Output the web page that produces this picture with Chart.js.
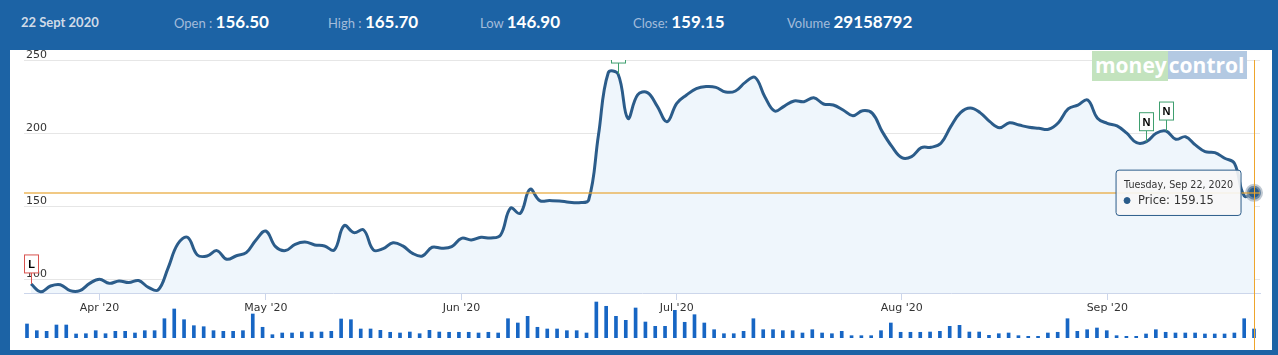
<!DOCTYPE html>
<html>
<head>
<meta charset="utf-8">
<script src="https://cdn.jsdelivr.net/npm/chart.js@4.4.1/dist/chart.umd.min.js"></script>
<style>
  html, body { margin: 0; padding: 0; }
  body { width: 1278px; height: 355px; background: #1c63a5; position: relative; overflow: hidden; font-family: Lato, sans-serif; }
  .panel { position: absolute; left: 10px; top: 50px; width: 1262px; height: 300px; background: #fff; }
  .hd { position: absolute; top: 12px; line-height: 20px; white-space: nowrap; }
  .hd .k { font-size: 13px; color: #a3bcdb; }
  .hd .v { font-size: 17px; font-weight: bold; color: #fff; }
  .hd.date { font-size: 13px; font-weight: bold; color: #d0dbe8; }
  canvas { position: absolute; left: 0; }
  #price { top: 50px; }
  #volume { top: 300px; }
  .logo { position: absolute; left: 1092px; top: 53px; font: bold 21px "Open Sans", sans-serif; color: #fff; line-height: 24px; white-space: nowrap; }
  .logo .m { background: #c3e3be; padding: 0 1px 2px 3px; }
  .logo .c { background: #b3c9e2; padding: 0 3px 0 1px; }
</style>
</head>
<body>
<div class="panel"></div>
<div class="hd date" style="left:21px">22 Sept 2020</div>
<div class="hd" style="left:174px"><span class="k">Open : </span><span class="v">156.50</span></div>
<div class="hd" style="left:328px"><span class="k">High : </span><span class="v">165.70</span></div>
<div class="hd" style="left:480px"><span class="k">Low </span><span class="v">146.90</span></div>
<div class="hd" style="left:633px"><span class="k">Close: </span><span class="v">159.15</span></div>
<div class="hd" style="left:787px"><span class="k">Volume </span><span class="v">29158792</span></div>
<canvas id="price" width="1278" height="270"></canvas>
<canvas id="volume" width="1278" height="50"></canvas>
<div class="logo"><span class="m">money</span><span class="c">control</span></div>
<script>
// trading days per month
const monthDays = [
  ['2020-03', [23, 24, 25, 26, 27, 30, 31]],
  ['2020-04', [3, 7, 8, 9, 13, 15, 16, 17, 20, 21, 22, 23, 24, 27, 28, 29, 30]],
  ['2020-05', [4, 5, 6, 7, 8, 11, 12, 13, 14, 15, 18, 19, 20, 21, 22, 25, 26, 27, 28, 29]],
  ['2020-06', [1, 2, 3, 4, 5, 8, 9, 10, 11, 12, 15, 16, 17, 18, 19, 22, 23, 24, 25, 26, 29, 30]],
  ['2020-07', [1, 2, 3, 6, 7, 8, 9, 10, 13, 14, 15, 16, 17, 20, 21, 22, 23, 24, 27, 28, 29, 30, 31]],
  ['2020-08', [3, 4, 5, 6, 7, 10, 11, 12, 13, 14, 17, 18, 19, 20, 21, 24, 25, 26, 27, 28, 31]],
  ['2020-09', [1, 2, 3, 4, 7, 8, 9, 10, 11, 14, 15, 16, 17, 18, 21, 22]]
];

const prices = [
  96.8, 91.5, 95.4, 96.3, 92.2, 92.2, 97.2, 100.0, 97.2, 98.8, 97.7, 99.1, 94.5, 92.7, 107.5,
  124.1, 128.7, 116.6, 115.9, 119.6, 113.7, 116.1, 118.2, 126.9, 133.0, 122.3, 119.6, 123.9, 125.5, 123.5,
  122.8, 120.0, 136.7, 131.9, 133.7, 120.0, 120.9, 125.0, 122.8, 117.7, 115.9, 121.9, 121.2, 122.3, 128.0,
  126.9, 128.7, 128.2, 130.3, 148.6, 145.1, 161.5, 153.8, 153.8, 153.6, 152.7, 152.4, 154.2, 198.7, 241.3,
  240.4, 210.1, 226.1,
  227.7, 218.5, 207.8, 220.4, 226.1, 230.4, 231.8, 231.3, 228.1, 228.8, 234.7, 238.1, 224.9, 215.1, 218.5,
  222.0, 221.5, 224.2, 219.9, 219.2, 215.8, 211.9, 215.3, 213.5, 201.0, 190.7, 183.2, 183.9, 190.0, 190.3,
  193.0, 204.4, 214.0,
  217.2, 214.0, 207.8, 203.7, 207.1, 205.5, 204.0, 203.3, 202.6, 207.1, 216.5, 219.2, 222.6, 210.1, 206.7,
  204.9, 199.9, 193.4, 194.1, 199.9, 201.4, 195.8, 197.5, 191.9, 187.3, 186.6, 182.8, 179.3, 157.0, 159.15
];

// volume in millions of shares
const volumes = [
  45.4, 23.7, 21.7, 42.1, 42.1, 13.0, 13.9, 23.7, 13.9, 21.7, 21.7, 16.2, 23.7, 23.7, 62.5,
  94.0, 59.3, 39.9, 36.6, 23.7, 21.7, 21.7, 23.7, 77.8, 34.7, 10.7, 16.2, 16.2,
  19.4, 19.4, 19.4, 21.7, 61.6, 59.3, 29.2, 29.2, 24.9, 18.5, 16.2, 19.4, 13.9, 24.9, 19.4, 18.5, 18.5,
  18.5, 16.2, 18.5, 16.2, 62.5, 48.6, 70.3, 34.7, 29.2, 29.2, 23.7, 23.7, 16.2, 116.6, 102.7, 70.3, 57.3, 97.2,
  51.8, 37.9, 37.9, 89.7, 50.9, 75.5, 48.6, 26.9, 13.9, 13.9, 21.7, 62.5, 26.9, 26.9, 23.7,
  23.7, 16.2, 26.9, 16.2, 13.9, 21.7, 7.5, 7.5, 7.5, 23.7, 48.6, 18.5, 18.5, 18.5, 19.4,
  21.7, 37.9, 41.1, 19.4, 19.4, 8.7, 13.9, 16.2, 7.5, 5.5, 5.5, 16.2, 18.5, 62.5, 21.7,
  26.9, 32.4, 23.7, 7.5, 5.5, 5.5, 13.0, 26.9, 18.5, 16.2, 16.2, 16.2, 13.0, 13.0, 13.0,
  16.2, 62.5, 29.16
];

const yTicks = [100, 150, 200, 250];

// flags on the price line: point index, letter, colour
const flagIndex = [0, 60, 114, 116];
const flagText = ['L', 'H', 'N', 'N'];
const flagColor = ['#d9534f', '#3f9f6f', '#3f9f6f', '#3f9f6f'];

const weekDays = ['Sunday', 'Monday', 'Tuesday', 'Wednesday', 'Thursday', 'Friday', 'Saturday'];
const monNames = ['Jan', 'Feb', 'Mar', 'Apr', 'May', 'Jun', 'Jul', 'Aug', 'Sep', 'Oct', 'Nov', 'Dec'];

const dates = monthDays.flatMap(([m, ds]) => ds.map(d => new Date(+m.slice(0, 4), +m.slice(5) - 1, d)));
const monthStarts = dates.map((d, i) => i).filter(i => i > 0 && dates[i].getMonth() !== dates[i - 1].getMonth());
const fmtDate = d => `${weekDays[d.getDay()]}, ${monNames[d.getMonth()]} ${d.getDate()}, ${d.getFullYear()}`;
const monthLabel = i => `${monNames[dates[i].getMonth()]} '${String(dates[i].getFullYear()).slice(2)}`;

const lineColor = '#2b5c8a';
const crossColor = '#eea52c';
const axisFont = { family: 'DejaVu Sans', size: 11 };
const lastIdx = prices.length - 1;
const xMin = -0.713, xMax = 125.61;

const flagPlugin = {
  id: 'flags',
  afterDatasetsDraw(chart) {
    const { ctx, chartArea: a, scales } = chart;
    ctx.save();
    ctx.beginPath();
    ctx.rect(a.left, a.top, a.right - a.left, a.bottom - a.top);
    ctx.clip();
    flagIndex.forEach((idx, k) => {
      const x = Math.round(scales.x.getPixelForValue(idx)) + 0.5;
      const y = scales.y.getPixelForValue(prices[idx]);
      const w = 14, h = 18, stem = 11;
      ctx.strokeStyle = flagColor[k];
      ctx.lineWidth = 1;
      ctx.beginPath();
      ctx.moveTo(x, y);
      ctx.lineTo(x, y - stem);
      ctx.stroke();
      ctx.fillStyle = '#fff';
      ctx.fillRect(x - w / 2, y - stem - h, w, h);
      ctx.strokeRect(x - w / 2, y - stem - h, w, h);
      ctx.fillStyle = '#000';
      ctx.font = 'bold 11px "Liberation Sans"';
      ctx.textAlign = 'center';
      ctx.textBaseline = 'middle';
      ctx.fillText(flagText[k], x, y - stem - h / 2 + 1);
    });
    ctx.restore();
  }
};

// crosshair through the last point; the tooltip is drawn over it
const crosshair = {
  id: 'crosshair',
  afterDatasetsDraw(chart) {
    const { ctx, chartArea: a, scales } = chart;
    const x = Math.round(scales.x.getPixelForValue(lastIdx)) + 0.5;
    const y = Math.round(scales.y.getPixelForValue(prices[lastIdx]));
    ctx.save();
    ctx.fillStyle = 'rgba(232,165,50,0.6)';
    ctx.fillRect(a.left, y - 1, a.right - a.left, 2);
    ctx.strokeStyle = crossColor;
    ctx.lineWidth = 1;
    ctx.beginPath();
    ctx.moveTo(x, a.top);
    ctx.lineTo(x, chart.height);
    ctx.stroke();
    ctx.restore();
  }
};

const priceChart = new Chart(document.getElementById('price'), {
  type: 'line',
  data: {
    datasets: [{
      label: 'Price',
      data: prices.map((p, i) => ({ x: i, y: p })),
      borderColor: lineColor,
      borderWidth: 3,
      tension: 0.4,
      fill: 'start',
      backgroundColor: '#eff6fc',
      pointRadius: 0,
      pointHoverRadius: 7,
      pointHoverBorderWidth: 4,
      pointHoverBackgroundColor: lineColor,
      pointHoverBorderColor: 'rgba(150,165,180,0.6)',
      clip: 10
    }]
  },
  options: {
    responsive: false,
    animation: false,
    events: [],
    layout: { padding: { left: 20, right: 18, top: 10, bottom: 0 } },
    plugins: {
      legend: { display: false },
      tooltip: {
        xAlign: 'right',
        yAlign: 'center',
        caretSize: 0,
        caretPadding: 13,
        backgroundColor: 'rgba(247,247,247,0.9)',
        borderColor: lineColor,
        borderWidth: 1,
        cornerRadius: 3,
        padding: { top: 10, bottom: 8, left: 8, right: 8 },
        titleColor: '#333',
        titleFont: { family: 'DejaVu Sans', size: 9.6, weight: 'normal' },
        titleMarginBottom: 2,
        bodyColor: '#333',
        bodyFont: { family: 'DejaVu Sans', size: 11.5 },
        displayColors: true,
        usePointStyle: true,
        boxWidth: 6,
        boxHeight: 6,
        boxPadding: 6,
        callbacks: {
          title: items => fmtDate(dates[items[0].parsed.x]),
          label: c => `${c.dataset.label}: ${c.parsed.y.toFixed(2)}`,
          labelColor: () => ({ borderColor: lineColor, backgroundColor: lineColor }),
          labelPointStyle: () => ({ pointStyle: 'circle', rotation: 0 })
        }
      }
    },
    scales: {
      x: {
        type: 'linear',
        min: xMin,
        max: xMax,
        afterBuildTicks: axis => { axis.ticks = monthStarts.map(v => ({ value: v })); },
        afterFit: axis => { axis.height = 27; },
        grid: { drawOnChartArea: false, drawTicks: true, tickLength: 7, color: '#ccd6eb' },
        border: { display: true, color: '#ccd6eb' },
        ticks: { autoSkip: false, maxRotation: 0, padding: 2, color: '#333', font: axisFont, callback: v => monthLabel(v) }
      },
      y: {
        min: 90.6,
        max: 250,
        afterBuildTicks: axis => { axis.ticks = yTicks.map(v => ({ value: v })); },
        grid: { color: '#e6e6e6', drawTicks: false },
        border: { display: false },
        ticks: { mirror: true, padding: 2, labelOffset: -5, color: '#333', font: axisFont }
      }
    }
  },
  plugins: [flagPlugin, crosshair]
});

const active = [{ datasetIndex: 0, index: lastIdx }];
priceChart.setActiveElements(active);
priceChart.tooltip.setActiveElements(active, { x: 0, y: 0 });
priceChart.update();

const volCrosshair = {
  id: 'volCrosshair',
  afterDatasetsDraw(chart) {
    const { ctx, scales } = chart;
    const x = Math.round(scales.x.getPixelForValue(lastIdx)) + 0.5;
    ctx.save();
    ctx.strokeStyle = crossColor;
    ctx.lineWidth = 1;
    ctx.beginPath();
    ctx.moveTo(x, 0);
    ctx.lineTo(x, chart.height);
    ctx.stroke();
    ctx.restore();
  }
};

new Chart(document.getElementById('volume'), {
  type: 'bar',
  data: {
    datasets: [{
      label: 'Volume',
      data: volumes.map((v, i) => ({ x: i, y: v })),
      backgroundColor: '#1766c4',
      barThickness: 3
    }]
  },
  options: {
    responsive: false,
    animation: false,
    events: [],
    layout: { padding: { left: 20, right: 18, top: 0, bottom: 12 } },
    plugins: { legend: { display: false }, tooltip: { enabled: false } },
    scales: {
      x: { type: 'linear', min: xMin, max: xMax, offset: false, grid: { offset: false }, display: false },
      y: { min: 0, max: 123.1, display: false }
    }
  },
  plugins: [volCrosshair]
});
</script>
</body>
</html>
